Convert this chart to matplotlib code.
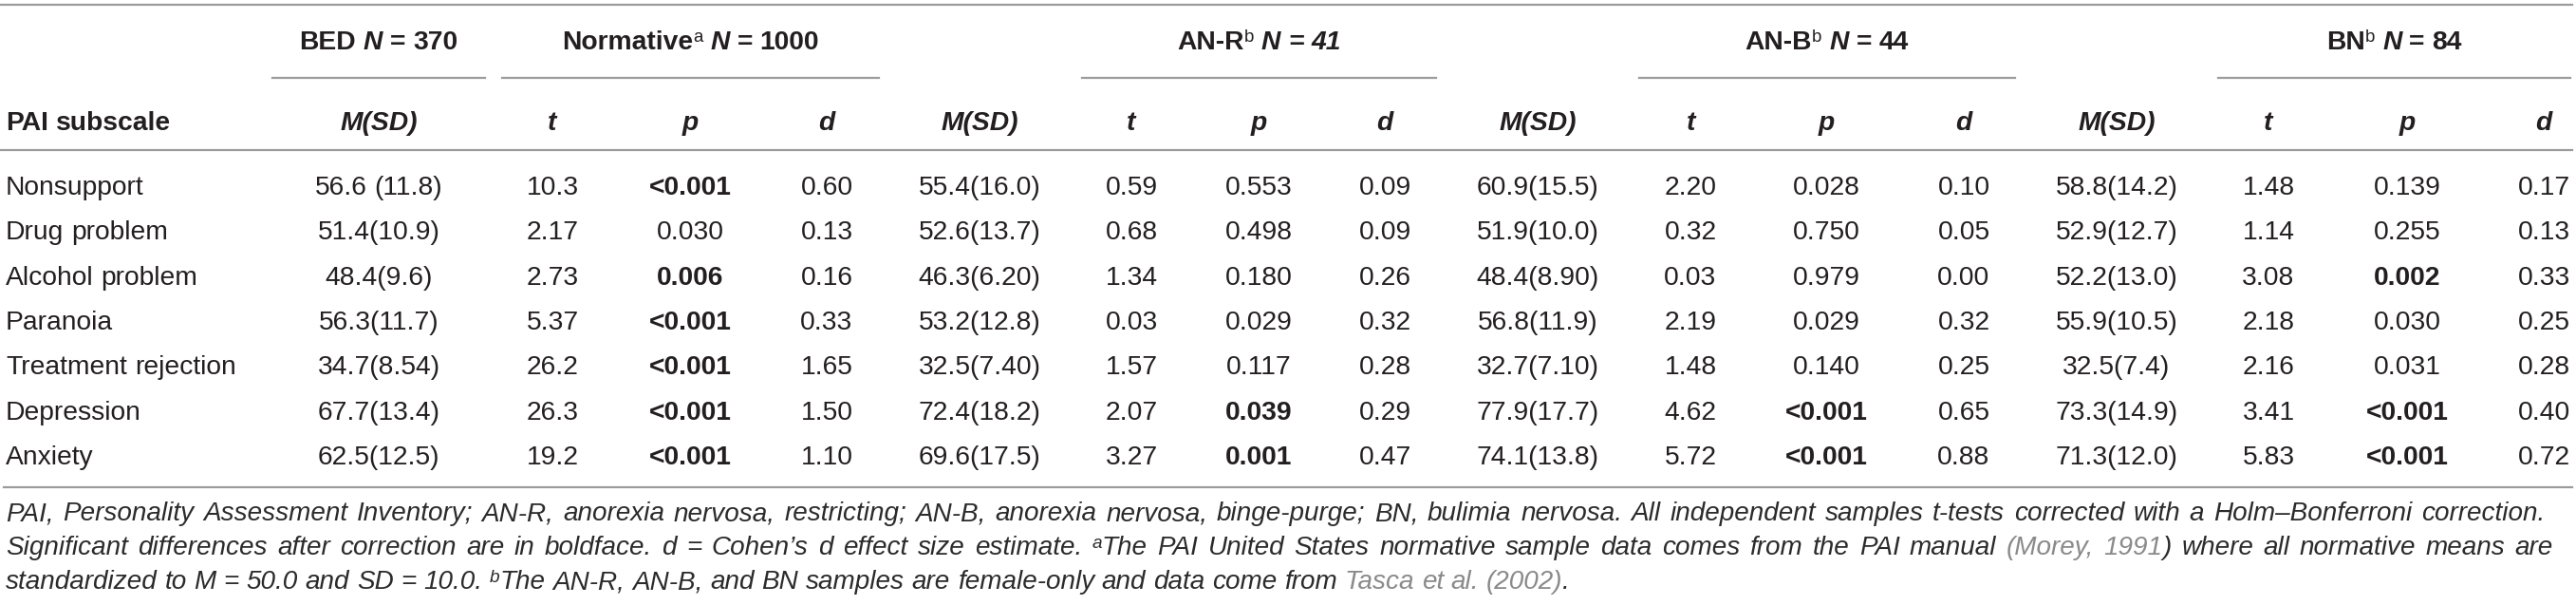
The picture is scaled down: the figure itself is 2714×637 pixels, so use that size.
import re
import matplotlib
matplotlib.use('Agg')
import matplotlib.pyplot as plt
from matplotlib.lines import Line2D

# ---------------- data ----------------
subscales = ["Nonsupport", "Drug problem", "Alcohol problem", "Paranoia",
             "Treatment rejection", "Depression", "Anxiety"]

bed_msd = ["56.6 (11.8)", "51.4(10.9)", "48.4(9.6)", "56.3(11.7)", "34.7(8.54)",
           "67.7(13.4)", "62.5(12.5)"]

norm_t = ["10.3", "2.17", "2.73", "5.37", "26.2", "26.3", "19.2"]
norm_p = ["<0.001", "0.030", "0.006", "<0.001", "<0.001", "<0.001", "<0.001"]
norm_d = ["0.60", "0.13", "0.16", "0.33", "1.65", "1.50", "1.10"]
norm_sig = [True, False, True, True, True, True, True]

anr_msd = ["55.4(16.0)", "52.6(13.7)", "46.3(6.20)", "53.2(12.8)", "32.5(7.40)",
           "72.4(18.2)", "69.6(17.5)"]
anr_t = ["0.59", "0.68", "1.34", "0.03", "1.57", "2.07", "3.27"]
anr_p = ["0.553", "0.498", "0.180", "0.029", "0.117", "0.039", "0.001"]
anr_d = ["0.09", "0.09", "0.26", "0.32", "0.28", "0.29", "0.47"]
anr_sig = [False, False, False, False, False, True, True]

anb_msd = ["60.9(15.5)", "51.9(10.0)", "48.4(8.90)", "56.8(11.9)", "32.7(7.10)",
           "77.9(17.7)", "74.1(13.8)"]
anb_t = ["2.20", "0.32", "0.03", "2.19", "1.48", "4.62", "5.72"]
anb_p = ["0.028", "0.750", "0.979", "0.029", "0.140", "<0.001", "<0.001"]
anb_d = ["0.10", "0.05", "0.00", "0.32", "0.25", "0.65", "0.88"]
anb_sig = [False, False, False, False, False, True, True]

bn_msd = ["58.8(14.2)", "52.9(12.7)", "52.2(13.0)", "55.9(10.5)", "32.5(7.4)",
          "73.3(14.9)", "71.3(12.0)"]
bn_t = ["1.48", "1.14", "3.08", "2.18", "2.16", "3.41", "5.83"]
bn_p = ["0.139", "0.255", "0.002", "0.030", "0.031", "<0.001", "<0.001"]
bn_d = ["0.17", "0.13", "0.33", "0.25", "0.28", "0.40", "0.72"]
bn_sig = [False, False, True, False, False, True, True]

# ---------------- figure / helpers ----------------
W, H = 2714, 637
fig = plt.figure(figsize=(W / 100, H / 100), dpi=100)
fig.patch.set_facecolor('white')
renderer = fig.canvas.get_renderer()

FONT = ['Liberation Sans', 'DejaVu Sans']
TXT = '#231f20'
FOOT_C = '#2b2b2b'
GRAY_LINK = '#8a8a8a'
LINE_C = '#9b9b9b'
BODY = 20.3

def fx(x):
    return x / W

def fy(y):
    return 1 - y / H

_cache = {}
def measure(s, size, weight='normal', style='normal'):
    key = (s, size, weight, style)
    if key in _cache:
        return _cache[key]
    kw = dict(fontfamily=FONT, fontsize=size, fontweight=weight, fontstyle=style)
    t1 = fig.text(0, 0, '|' + s + '|', **kw)
    w1 = t1.get_window_extent(renderer).width
    t1.remove()
    t2 = fig.text(0, 0, '||', **kw)
    w2 = t2.get_window_extent(renderer).width
    t2.remove()
    _cache[key] = w1 - w2
    return w1 - w2

def run(text, size=BODY, weight='normal', style='normal', color=TXT, rise=0.0):
    return dict(text=text, size=size, weight=weight, style=style, color=color, rise=rise)

def tokens(runs):
    toks = []
    for r in runs:
        for p in re.split(r'( )', r['text']):
            if p == '':
                continue
            toks.append(dict(r, text=p))
    return toks

def natural_width(runs):
    return sum(measure(t['text'], t['size'], t['weight'], t['style']) for t in tokens(runs))

def draw_runs(x, base, runs, ha='center', justify_to=None):
    toks = tokens(runs)
    widths = [measure(t['text'], t['size'], t['weight'], t['style']) for t in toks]
    total = sum(widths)
    nsp = sum(1 for t in toks if t['text'] == ' ')
    extra = 0.0
    if justify_to is not None and nsp > 0:
        extra = (justify_to - total) / nsp
        total = justify_to
    if ha == 'center':
        cx = x - total / 2
    elif ha == 'right':
        cx = x - total
    else:
        cx = x
    for t, w in zip(toks, widths):
        if t['text'] == ' ':
            cx += w + extra
            continue
        fig.text(fx(cx), fy(base - t['rise']), t['text'], fontfamily=FONT,
                 fontsize=t['size'], fontweight=t['weight'], fontstyle=t['style'],
                 color=t['color'], ha='left', va='baseline')
        cx += w

def hline(x0, x1, y, lw=1.6):
    fig.add_artist(Line2D([fx(x0), fx(x1)], [fy(y), fy(y)], color=LINE_C,
                          linewidth=lw, transform=fig.transFigure))

# ---------------- layout ----------------
LABEL_X = 6
col_x = [399, 582, 727, 871, 1032, 1192, 1326, 1459, 1620, 1781, 1924, 2069,
         2230, 2390, 2536, 2680]
ROW0 = 205
ROW_STEP = 47.3

# rules
hline(0, 2710, 5)
hline(0, 2710, 158)
hline(4, 2710, 513)
underlines = [(287, 511), (529, 926), (1140, 1513), (1727, 2123), (2337, 2708)]
for a, b in underlines:
    hline(a, b, 82)

# group headers
HB = 52
SUP = BODY * 0.66
draw_runs((287 + 511) / 2, HB, [run('BED ', weight='bold'), run('N', weight='bold', style='italic'),
                                 run(' = 370', weight='bold')])
draw_runs((529 + 926) / 2, HB, [run('Normative', weight='bold'), run('a', size=SUP, rise=8),
                                run(' ', weight='bold'), run('N', weight='bold', style='italic'),
                                run(' = 1000', weight='bold')])
draw_runs((1140 + 1513) / 2, HB, [run('AN-R', weight='bold'), run('b', size=SUP, rise=8),
                                  run(' ', weight='bold'), run('N = 41', weight='bold', style='italic')])
draw_runs((1727 + 2123) / 2, HB, [run('AN-B', weight='bold'), run('b', size=SUP, rise=8),
                                  run(' ', weight='bold'), run('N', weight='bold', style='italic'),
                                  run(' = 44', weight='bold')])
draw_runs((2337 + 2708) / 2, HB, [run('BN', weight='bold'), run('b', size=SUP, rise=8),
                                  run(' ', weight='bold'), run('N', weight='bold', style='italic'),
                                  run(' = 84', weight='bold')])

# sub headers
SB = 137
draw_runs(LABEL_X, SB, [run('PAI subscale', weight='bold')], ha='left')
sub = ['M(SD)', 't', 'p', 'd'] * 4
for x, s in zip(col_x, sub):
    draw_runs(x, SB, [run(s, weight='bold', style='italic')])

# body
groups = [
    [bed_msd, norm_t, (norm_p, norm_sig), norm_d],
    [anr_msd, anr_t, (anr_p, anr_sig), anr_d],
    [anb_msd, anb_t, (anb_p, anb_sig), anb_d],
    [bn_msd, bn_t, (bn_p, bn_sig), bn_d],
]
columns = []
for g in groups:
    columns.extend(g)

for i, name in enumerate(subscales):
    base = ROW0 + i * ROW_STEP
    draw_runs(LABEL_X, base, [run(name)], ha='left')
    for x, col in zip(col_x, columns):
        if isinstance(col, tuple):
            vals, sig = col
            draw_runs(x, base, [run(vals[i], weight='bold' if sig[i] else 'normal')])
        else:
            draw_runs(x, base, [run(col[i])])

# footnote
L1_END, L2_END = 2681, 2690
TEXT1 = ('PAI, Personality Assessment Inventory; AN-R, anorexia nervosa, restricting; '
         'AN-B, anorexia nervosa, binge-purge; BN, bulimia nervosa. All independent samples '
         't-tests corrected with a Holm\u2013Bonferroni correction.')
probe = 18.0
nat = natural_width([run(TEXT1, size=probe, style='italic')])
FOOT = probe * (L1_END - LABEL_X) / nat * 0.985

def fnote(lines_spec):
    return lines_spec

FI = dict(size=FOOT, style='italic', color=FOOT_C)
FSUP = dict(size=FOOT * 0.68, style='italic', color=FOOT_C, rise=7)
FL = dict(size=FOOT, style='italic', color=GRAY_LINK)
line1 = [run(TEXT1, **FI)]
line2 = [run('Significant differences after correction are in boldface. d = Cohen\u2019s d effect '
             'size estimate. ', **FI), run('a', **FSUP),
         run('The PAI United States normative sample data comes from the PAI manual ', **FI),
         run('(Morey, 1991', **FL),
         run(') where all normative means are', **FI)]
line3 = [run('standardized to M = 50.0 and SD = 10.0. ', **FI), run('b', **FSUP),
         run('The AN-R, AN-B, and BN samples are female-only and data come from ', **FI),
         run('Tasca et al. (2002)', **FL), run('.', **FI)]
draw_runs(LABEL_X, 548, line1, ha='left', justify_to=L1_END - LABEL_X)
draw_runs(LABEL_X, 584, line2, ha='left', justify_to=L2_END - LABEL_X)
draw_runs(LABEL_X, 620, line3, ha='left')

fig.savefig('out.png', dpi=100, facecolor='white')
